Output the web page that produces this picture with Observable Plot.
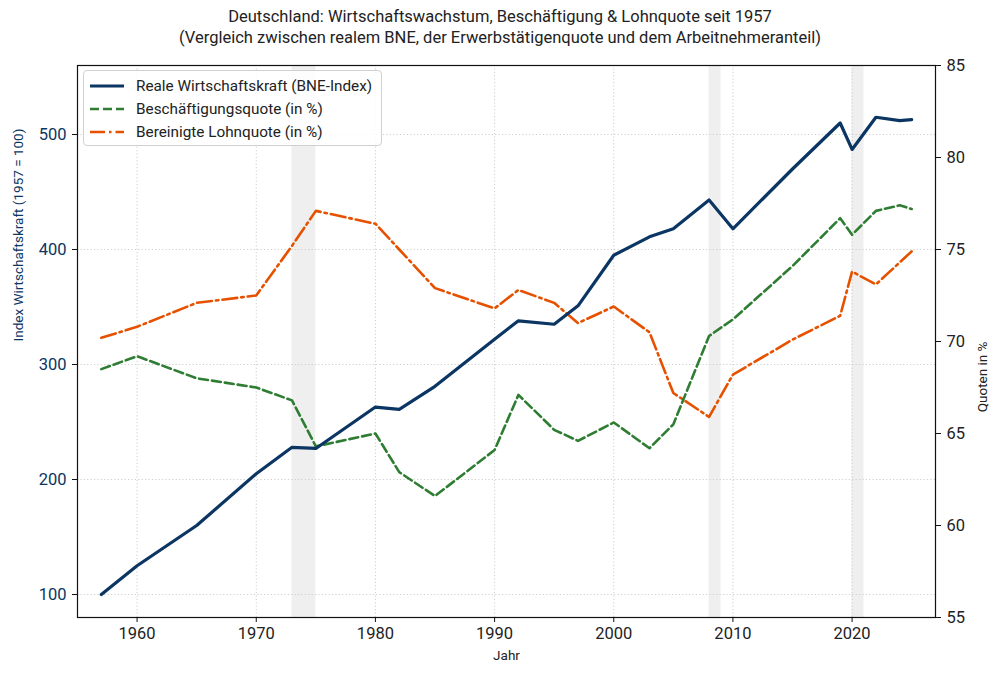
<!DOCTYPE html>
<html>
<head>
<meta charset="utf-8">
<script src="https://cdn.jsdelivr.net/npm/d3@7"></script>
<script src="https://cdn.jsdelivr.net/npm/@observablehq/plot@0.6"></script>
<style>
  html, body { margin: 0; padding: 0; background: #fff; }
  #wrap { position: relative; width: 1000px; height: 678px; font-family: Roboto, "DejaVu Sans", sans-serif; color: #222; }
  #title { position: absolute; left: 0; top: 6px; width: 1000px; text-align: center; font-size: 16.5px; line-height: 21px; }
  #chart { position: absolute; left: 0; top: 52px; }
  #legend { position: absolute; left: 83px; top: 70px; width: 299px; height: 76px; box-sizing: border-box;
            border: 1px solid #d0d0d0; border-radius: 4px; background: rgba(255,255,255,0.85); font-size: 15.3px; }
  .row { position: absolute; left: 0; height: 20px; display: flex; align-items: center; white-space: nowrap; }
  .row svg { margin-left: 6px; margin-right: 12px; }
</style>
</head>
<body>
<div id="wrap">
  <div id="title">Deutschland: Wirtschaftswachstum, Beschäftigung &amp; Lohnquote seit 1957<br>(Vergleich zwischen realem BNE, der Erwerbstätigenquote und dem Arbeitnehmeranteil)</div>
  <div id="chart"></div>
  <div id="legend"></div>
</div>
<script>
// ---- Data ----
const bneYears = [1957,1960,1965,1970,1973,1975,1980,1982,1985,1990,1992,1995,1997,2000,2003,2005,2008,2010,2015,2019,2020,2022,2024,2025];
const bneIndex = [100,125,160,205,228,227,263,261,281,322,338,335,351,395,411,418,443,418,470,510,487,515,512,513];

const empYears = [1957,1960,1965,1970,1973,1975,1980,1982,1985,1990,1992,1995,1997,2000,2003,2005,2008,2010,2015,2019,2020,2022,2024,2025];
const empRate  = [68.5,69.2,68.0,67.5,66.8,64.3,65.0,62.9,61.6,64.1,67.1,65.2,64.6,65.6,64.2,65.5,70.3,71.2,74.1,76.7,75.8,77.1,77.4,77.2];

const wageYears = [1957,1960,1965,1970,1973,1975,1980,1982,1985,1990,1992,1995,1997,2000,2003,2005,2008,2010,2015,2019,2020,2022,2025];
const wageShare = [70.2,70.8,72.1,72.5,75.2,77.1,76.4,75.0,72.9,71.8,72.8,72.1,71.0,71.9,70.5,67.2,65.9,68.2,70.1,71.4,73.8,73.1,74.9];

const crisisStart = [1973, 2008, 2020];
const crisisEnd   = [1975, 2009, 2021];

const xTicks = [1960,1970,1980,1990,2000,2010,2020];
const leftTicks = [100,200,300,400,500];
const rightTicks = [55,60,65,70,75,80,85];

const seriesNames = ["Reale Wirtschaftskraft (BNE-Index)", "Beschäftigungsquote (in %)", "Bereinigte Lohnquote (in %)"];
const seriesColors = ["#0b3563", "#2e7d32", "#e65100"];
const seriesDash = [null, "9,4", "15,4,2.5,4"];

const leftLabel = "Index Wirtschaftskraft (1957 = 100)";
const rightLabel = "Quoten in %";
const xLabel = "Jahr";

// ---- Scales ----
const leftDomain = [80, 560];
const rightDomain = [55, 85];
const toLeft = v => leftDomain[0] + (v - rightDomain[0]) * (leftDomain[1] - leftDomain[0]) / (rightDomain[1] - rightDomain[0]);
const fromLeft = v => rightDomain[0] + (v - leftDomain[0]) * (rightDomain[1] - rightDomain[0]) / (leftDomain[1] - leftDomain[0]);

const bneData = bneYears.map((y, i) => ({year: y, v: bneIndex[i]}));
const empData = empYears.map((y, i) => ({year: y, v: toLeft(empRate[i])}));
const wageData = wageYears.map((y, i) => ({year: y, v: toLeft(wageShare[i])}));
const crises = crisisStart.map((s, i) => ({s, e: crisisEnd[i]}));

const chart = Plot.plot({
  width: 1000,
  height: 626,
  marginLeft: 77,
  marginRight: 65,
  marginTop: 13,
  marginBottom: 61,
  style: {fontFamily: "Roboto, 'DejaVu Sans', sans-serif", fontSize: "16.5px", color: "#222", background: "transparent"},
  x: {domain: [1955, 2027]},
  y: {domain: leftDomain},
  marks: [
    Plot.rect(crises, {x1: "s", x2: "e", fill: "#efefef"}),
    Plot.gridX(xTicks, {stroke: "#c8c8c8", strokeOpacity: 1, strokeDasharray: "1.2,2.2", strokeWidth: 0.9}),
    Plot.gridY(leftTicks, {stroke: "#c8c8c8", strokeOpacity: 1, strokeDasharray: "1.2,2.2", strokeWidth: 0.9}),
    Plot.line(wageData, {x: "year", y: "v", stroke: seriesColors[2], strokeWidth: 2.6, strokeDasharray: seriesDash[2], strokeLinejoin: "round"}),
    Plot.line(empData, {x: "year", y: "v", stroke: seriesColors[1], strokeWidth: 2.6, strokeDasharray: seriesDash[1], strokeLinejoin: "round"}),
    Plot.line(bneData, {x: "year", y: "v", stroke: seriesColors[0], strokeWidth: 3.2, strokeLinejoin: "round"}),
    Plot.frame({stroke: "#111", strokeWidth: 1.2}),
    Plot.axisX({ticks: xTicks, tickFormat: "d", tickSize: 5, tickPadding: 5, label: null, stroke: "#111", fill: "#222"}),
    Plot.axisY({ticks: leftTicks, tickFormat: "d", tickSize: 5, tickPadding: 6, label: null, stroke: "#111", fill: "#0b3563"}),
    Plot.axisY({anchor: "right", ticks: rightTicks.map(toLeft), tickFormat: d => d3.format("d")(Math.round(fromLeft(d))), tickSize: 5, tickPadding: 6, label: null, stroke: "#111", fill: "#222"}),
    Plot.text([xLabel], {frameAnchor: "bottom", dy: 42, fontSize: 13.5, fill: "#222"}),
    Plot.text([leftLabel], {frameAnchor: "left", rotate: -90, dx: -59, fontSize: 13.5, fill: "#0b3563"}),
    Plot.text([rightLabel], {frameAnchor: "right", rotate: -90, dx: 47, fontSize: 13.5, fill: "#222"})
  ]
});
document.getElementById("chart").appendChild(chart);

// ---- Legend ----
const legend = document.getElementById("legend");
seriesNames.forEach((name, i) => {
  const row = document.createElement("div");
  row.className = "row";
  row.style.top = (5 + i * 23) + "px";
  const dash = seriesDash[i] ? `stroke-dasharray="${seriesDash[i]}"` : "";
  row.innerHTML = `<svg width="34" height="10"><line x1="0" y1="5" x2="34" y2="5" stroke="${seriesColors[i]}" stroke-width="${i === 0 ? 3.2 : 2.6}" ${dash}/></svg><span>${name}</span>`;
  legend.appendChild(row);
});
</script>
</body>
</html>
